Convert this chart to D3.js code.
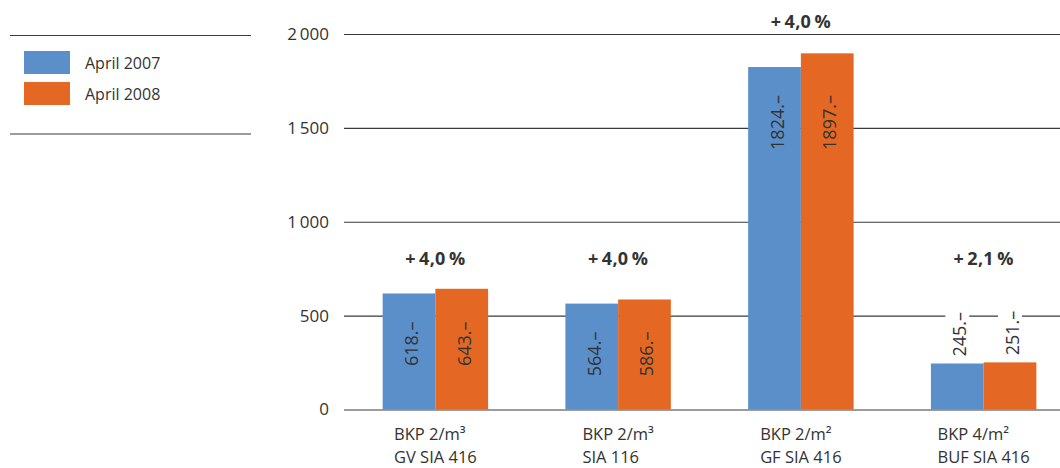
<!DOCTYPE html>
<html>
<head>
<meta charset="utf-8">
<script src="https://cdn.jsdelivr.net/npm/d3@7"></script>
<style>
  body { margin: 0; background: #fff; }
  text { font-family: "Open Sans", sans-serif; fill: #333; }
</style>
</head>
<body>
<div id="chart"></div>
<script>
// data
const categories = [
  ["BKP 2/m\u00b3", "GV SIA 416"],
  ["BKP 2/m\u00b3", "SIA 116"],
  ["BKP 2/m\u00b2", "GF SIA 416"],
  ["BKP 4/m\u00b2", "BUF SIA 416"]
];
const seriesNames = ["April 2007", "April 2008"];
const april2007 = [618, 564, 1824, 245];
const april2008 = [643, 586, 1897, 251];
const changes = ["+\u20094,0\u2009%", "+\u20094,0\u2009%", "+\u20094,0\u2009%", "+\u20092,1\u2009%"];
const yTicks = [0, 500, 1000, 1500, 2000];
const colors = ["#5b8fca", "#e46823"];

const W = 1060, H = 468;
const svg = d3.select("#chart").append("svg")
    .attr("width", W).attr("height", H);

const y = d3.scaleLinear().domain([0, 2000]).range([409.5, 34]);
const x0 = d3.scaleBand().domain(d3.range(categories.length)).range([344, 1075]).padding(0);
const x1 = d3.scaleBand().domain(seriesNames).range([0, x0.bandwidth()])
    .paddingInner(0).paddingOuter(0.733);

// gridlines + tick labels
const fmt = d => d >= 1000 ? String(d).replace(/(\d)(\d{3})$/, "$1\u2009$2") : String(d);
const axis = svg.append("g")
    .attr("transform", "translate(344,0)")
    .call(d3.axisLeft(y).tickValues(yTicks).tickSize(-(W - 344)).tickPadding(15).tickFormat(fmt));
axis.select(".domain").remove();
axis.selectAll(".tick line").attr("stroke", "#3a3a3a").attr("stroke-width", 1.2);
axis.selectAll(".tick text").style("font-size", "17px").attr("fill", "#333");

// bars
const rows = categories.map((c, i) => ({i, vals: [april2007[i], april2008[i]]}));
const groups = svg.selectAll("g.grp").data(rows).enter().append("g")
    .attr("class", "grp")
    .attr("transform", d => `translate(${x0(d.i)},0)`);

groups.selectAll("rect").data(d => d.vals.map((v, k) => ({v, k})))
  .enter().append("rect")
    .attr("x", d => x1(seriesNames[d.k]))
    .attr("width", x1.bandwidth())
    .attr("y", d => y(d.v))
    .attr("height", d => y(0) - y(d.v))
    .attr("fill", d => colors[d.k]);

// value labels (rotated)
groups.each(function(d) {
  const g = d3.select(this);
  const minV = d3.min(d.vals);
  const inside = (y(0) - y(minV)) > 80;
  d.vals.forEach((v, k) => {
    const cx = x1(seriesNames[k]) + x1.bandwidth() / 2;
    const ty = inside ? y(minV) + 28 : y(v) - 7;
    const t = g.append("text")
        .attr("transform", `translate(${cx},${ty}) rotate(-90)`)
        .attr("dy", "0.5em")
        .attr("text-anchor", inside ? "end" : "start")
        .style("font-size", "18px")
        .text(v + ".\u2013");
    if (!inside) {
      const len = t.node().getComputedTextLength();
      g.insert("rect", "text")
          .attr("x", cx - 12).attr("width", 24)
          .attr("y", ty - len - 4).attr("height", len + 4)
          .attr("fill", "#fff");
    }
  });
});

// percent change labels
groups.append("text")
    .attr("x", x0.bandwidth() / 2)
    .attr("y", d => d3.max(d.vals) > 1500 ? 28 : 265)
    .attr("text-anchor", "middle")
    .style("font-size", "18px").style("font-weight", "bold")
    .style("letter-spacing", "0.3px")
    .text(d => changes[d.i]);

// category labels: left-aligned block centred under the group
groups.each(function(d) {
  const g = d3.select(this);
  categories[d.i].forEach((line, j) => {
    g.append("text").attr("class", "cat")
        .attr("y", 440 + j * 22.6)
        .style("font-size", "16.5px")
        .text(line);
  });
  const cats = g.selectAll("text.cat");
  const w = d3.max(cats.nodes(), n => n.getComputedTextLength());
  cats.attr("x", x0.bandwidth() / 2 - w / 2);
});

// legend
const legend = svg.append("g");
legend.selectAll("line").data([35.5, 134]).enter().append("line")
    .attr("x1", 10).attr("x2", 251)
    .attr("y1", d => d).attr("y2", d => d)
    .attr("stroke", "#3a3a3a").attr("stroke-width", 1.2);
const li = legend.selectAll("g.li").data(seriesNames).enter().append("g")
    .attr("transform", (d, i) => `translate(24,${51 + i * 31})`);
li.append("rect").attr("width", 46).attr("height", 23).attr("fill", (d, i) => colors[i]);
li.append("text").attr("x", 61).attr("y", 17.5).style("font-size", "16px").text(d => d);
</script>
</body>
</html>
